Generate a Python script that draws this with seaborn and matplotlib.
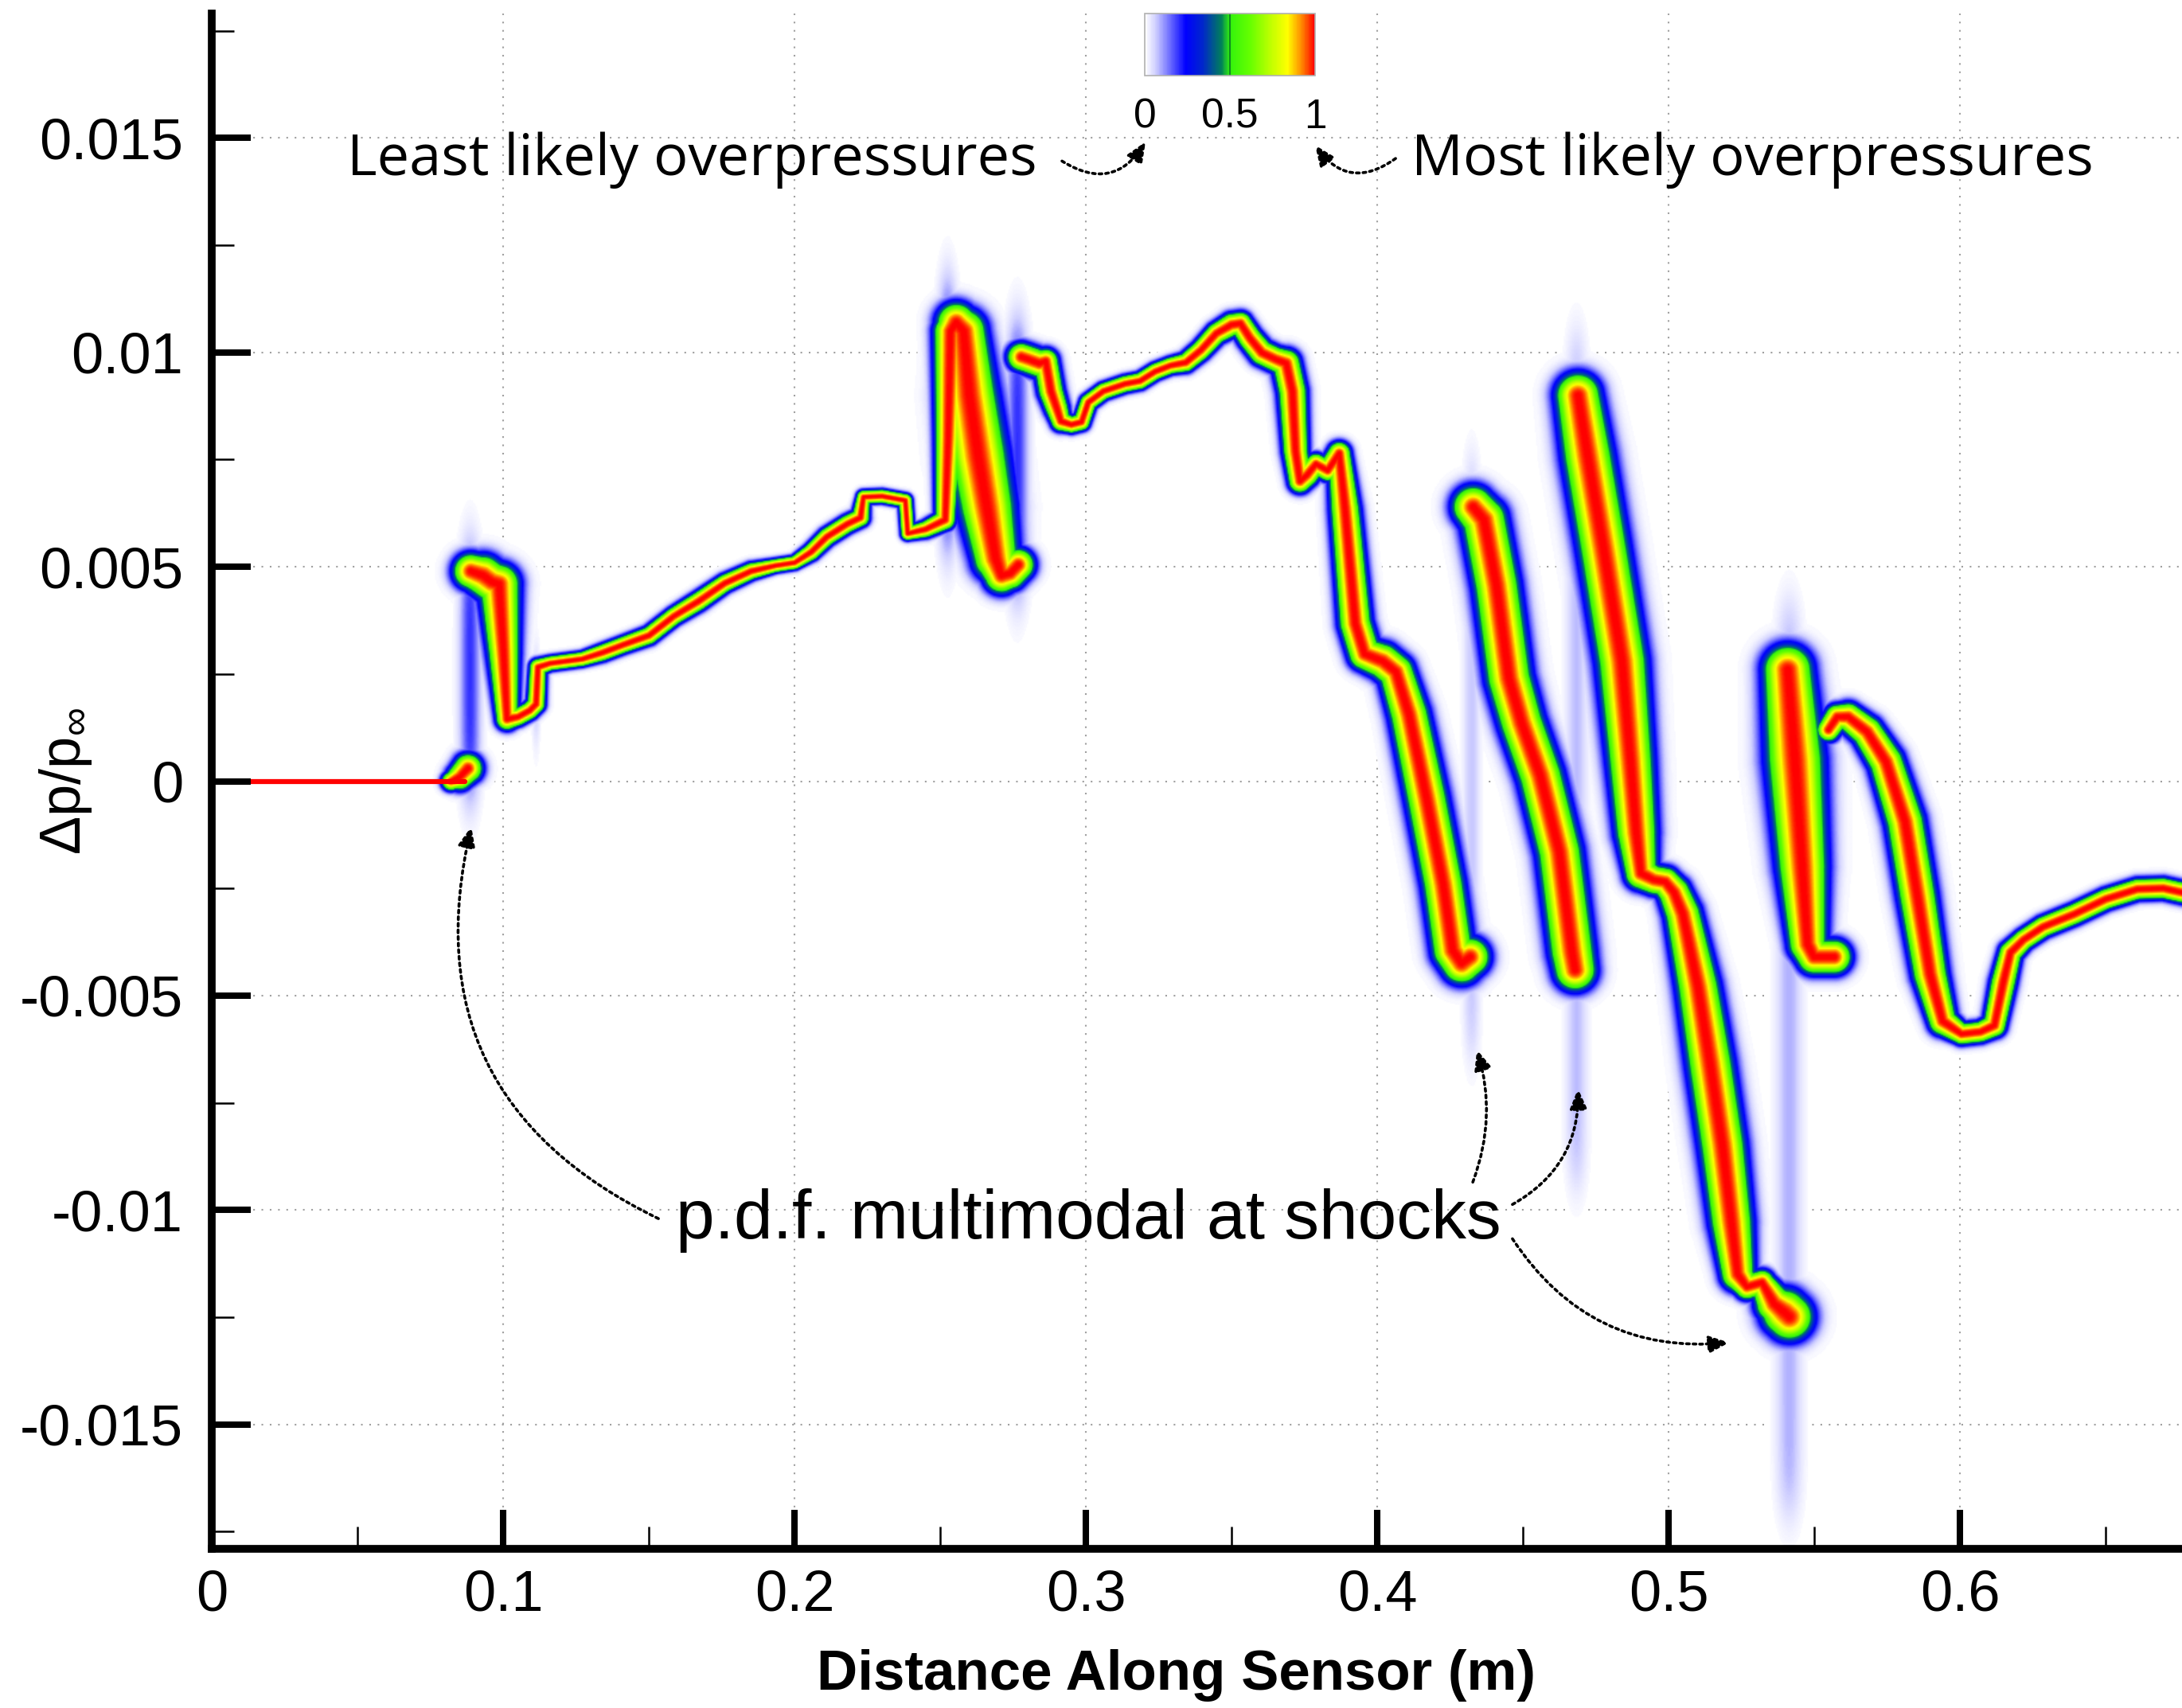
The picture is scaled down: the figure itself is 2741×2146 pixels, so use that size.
import numpy as np
import pandas as pd
import matplotlib
matplotlib.use("Agg")
import matplotlib.pyplot as plt
import seaborn as sns
from matplotlib.colors import LinearSegmentedColormap, Normalize
from matplotlib.cm import ScalarMappable
from matplotlib.ticker import MultipleLocator, FuncFormatter

# ---------------------------------------------------------------------------
# Overpressure p.d.f. along the sensor.
# Each stretch between shocks is given by the most likely value of dp/p_inf
# and the spread of the p.d.f. around it.
# ---------------------------------------------------------------------------

# deterministic part ahead of the first shock
zero_x = [0.0, 0.0870]
zero_dp = [0.0, 0.0]

seg0_x = [0.0820, 0.0850, 0.0878]
seg0_dp = [0.00000, 0.00010, 0.00030]
seg0_sd = [0.00018, 0.00025, 0.00028]

seg1_x = [0.0888, 0.0930, 0.0960, 0.0985, 0.1000, 0.1012, 0.1050, 0.1090, 0.1112,
          0.1118, 0.1160, 0.1270, 0.1340, 0.1410, 0.1500, 0.1585, 0.1670, 0.1760,
          0.1850, 0.1934, 0.2000, 0.2057, 0.2110, 0.2180, 0.2226, 0.2236, 0.2300,
          0.2380, 0.2388, 0.2450, 0.2517, 0.2527, 0.2535, 0.2555, 0.2580, 0.2600,
          0.2630, 0.2660, 0.2690, 0.2710, 0.2740, 0.2768]
seg1_dp = [0.00490, 0.00480, 0.00465, 0.00460, 0.00300, 0.00145, 0.00150, 0.00165, 0.00180,
           0.00266, 0.00275, 0.00285, 0.00300, 0.00318, 0.00340, 0.00385, 0.00420, 0.00462,
           0.00490, 0.00503, 0.00510, 0.00535, 0.00570, 0.00600, 0.00615, 0.00663, 0.00665,
           0.00655, 0.00578, 0.00588, 0.00610, 0.00800, 0.01050, 0.01070, 0.01050, 0.00900,
           0.00760, 0.00640, 0.00520, 0.00480, 0.00485, 0.00505]
seg1_sd = [0.00034, 0.00039, 0.00039, 0.00039, 0.00030, 0.00021, 0.00017, 0.00017, 0.00017,
           0.00016, 0.00014, 0.00014, 0.00016, 0.00016, 0.00017, 0.00017, 0.00018, 0.00017,
           0.00016, 0.00013, 0.00013, 0.00016, 0.00017, 0.00017, 0.00017, 0.00013, 0.00013,
           0.00013, 0.00013, 0.00016, 0.00019, 0.00025, 0.00032, 0.00038, 0.00043, 0.00052,
           0.00055, 0.00052, 0.00043, 0.00034, 0.00031, 0.00031]

seg2_x = [0.2778, 0.2800, 0.2840, 0.2862, 0.2880, 0.2900, 0.2914, 0.2950, 0.2985,
          0.3008, 0.3060, 0.3134, 0.3186, 0.3238, 0.3291, 0.3343, 0.3395, 0.3448,
          0.3500, 0.3531, 0.3563, 0.3604, 0.3650, 0.3688, 0.3709, 0.3720, 0.3735,
          0.3760, 0.3790, 0.3830, 0.3870, 0.3890, 0.3925, 0.3957, 0.4020, 0.4065,
          0.4110, 0.4170, 0.4227, 0.4260, 0.4290, 0.4320]
seg2_dp = [0.00990, 0.00985, 0.00975, 0.00980, 0.00910, 0.00870, 0.00840, 0.00832, 0.00838,
           0.00884, 0.00910, 0.00927, 0.00934, 0.00956, 0.00970, 0.00977, 0.01006, 0.01045,
           0.01065, 0.01068, 0.01034, 0.01000, 0.00985, 0.00975, 0.00910, 0.00770, 0.00700,
           0.00715, 0.00740, 0.00725, 0.00765, 0.00635, 0.00368, 0.00297, 0.00280, 0.00255,
           0.00155, -0.00040, -0.00240, -0.00395, -0.00425, -0.00410]
seg2_sd = [0.00027, 0.00027, 0.00027, 0.00024, 0.00024, 0.00022, 0.00019, 0.00016, 0.00016,
           0.00016, 0.00016, 0.00016, 0.00016, 0.00016, 0.00016, 0.00018, 0.00019, 0.00020,
           0.00022, 0.00022, 0.00023, 0.00024, 0.00024, 0.00027, 0.00027, 0.00024, 0.00022,
           0.00022, 0.00020, 0.00020, 0.00022, 0.00028, 0.00031, 0.00031, 0.00034, 0.00034,
           0.00037, 0.00039, 0.00039, 0.00039, 0.00039, 0.00037]

seg3_x = [0.4330, 0.4367, 0.4410, 0.4453, 0.4496, 0.4561, 0.4626, 0.4669, 0.4680]
seg3_dp = [0.00640, 0.00610, 0.00457, 0.00240, 0.00137, 0.00012, -0.00165, -0.00397, -0.00440]
seg3_sd = [0.00040, 0.00043, 0.00043, 0.00043, 0.00042, 0.00042, 0.00042, 0.00042, 0.00040]

seg4_x = [0.4690, 0.4723, 0.4777, 0.4841, 0.4870, 0.4890, 0.4906, 0.4950, 0.4990,
          0.5020, 0.5050, 0.5102, 0.5144, 0.5186, 0.5217, 0.5238, 0.5270, 0.5322,
          0.5364, 0.5400, 0.5416]
seg4_dp = [0.00900, 0.00760, 0.00546, 0.00280, 0.00050, -0.00120, -0.00215, -0.00230, -0.00235,
           -0.00260, -0.00310, -0.00480, -0.00660, -0.00850, -0.01030, -0.01150, -0.01180, -0.01170,
           -0.01220, -0.01240, -0.01250]
seg4_sd = [0.00043, 0.00047, 0.00047, 0.00047, 0.00043, 0.00039, 0.00031, 0.00028, 0.00028,
           0.00031, 0.00034, 0.00040, 0.00043, 0.00043, 0.00040, 0.00032, 0.00024, 0.00024,
           0.00036, 0.00045, 0.00045]

seg5_x = [0.5410, 0.5435, 0.5460, 0.5478, 0.5500, 0.5570]
seg5_dp = [0.00260, 0.00050, -0.00200, -0.00380, -0.00410, -0.00410]
seg5_sd = [0.00047, 0.00054, 0.00047, 0.00036, 0.00033, 0.00033]

seg6_x = [0.5550, 0.5580, 0.5618, 0.5683, 0.5748, 0.5813, 0.5856, 0.5899, 0.5942,
          0.6007, 0.6072, 0.6120, 0.6150, 0.6175, 0.6220, 0.6287, 0.6395, 0.6503,
          0.6611, 0.6700, 0.6780]
seg6_dp = [0.00120, 0.00150, 0.00150, 0.00115, 0.00045, -0.00094, -0.00270, -0.00450, -0.00560,
           -0.00590, -0.00585, -0.00570, -0.00470, -0.00400, -0.00370, -0.00340, -0.00310, -0.00275,
           -0.00252, -0.00250, -0.00262]
seg6_sd = [0.00022, 0.00024, 0.00027, 0.00030, 0.00033, 0.00036, 0.00036, 0.00033, 0.00027,
           0.00020, 0.00020, 0.00022, 0.00024, 0.00022, 0.00020, 0.00020, 0.00020, 0.00020,
           0.00020, 0.00020, 0.00020]

# shocks: where the p.d.f. turns multimodal (low-probability spread between states)
shock_x = [0.0885, 0.1112, 0.2525, 0.2765, 0.4325, 0.4685, 0.5415, 0.5550]
shock_spread_x = [0.0024, 0.0010, 0.0022, 0.0025, 0.0020, 0.0025, 0.0030, 0.0015]
shock_top = [0.0053, 0.0027, 0.0115, 0.0105, 0.0074, 0.0103, 0.0040, 0.0015]
shock_bottom = [-0.0002, 0.0013, 0.0055, 0.0045, -0.0063, -0.0093, -0.0170, -0.0040]
shock_level = [0.20, 0.10, 0.18, 0.20, 0.07, 0.08, 0.09, 0.07]

x_ticks = [0.0, 0.1, 0.2, 0.3, 0.4, 0.5, 0.6]
y_ticks = [-0.015, -0.01, -0.005, 0.0, 0.005, 0.01, 0.015]
cbar_ticks = [0.0, 0.5, 1.0]

# ---------------------------------------------------------------------------
sns.set_theme(style="white")
plt.rcParams["font.family"] = ["Liberation Sans", "DejaVu Sans"]
plt.rcParams["mathtext.fontset"] = "custom"
plt.rcParams["mathtext.rm"] = "Liberation Sans"
plt.rcParams["mathtext.it"] = "Liberation Sans:italic"
plt.rcParams["axes.unicode_minus"] = False
for key in ("text.color", "axes.labelcolor", "xtick.color", "ytick.color"):
    plt.rcParams[key] = "black"

X_MIN, X_MAX = 0.0, 0.6762
Y_MIN, Y_MAX = -0.0179, 0.0179

fig = plt.figure(figsize=(27.41, 21.46), dpi=100)
ax_left, ax_bottom = 266 / 2741, 1 - 1946 / 2146
ax_w, ax_h = 1 - ax_left, (1946 - 17) / 2146
ax = fig.add_axes([ax_left, ax_bottom, ax_w, ax_h])

# colour map: white -> blue -> green -> yellow -> red
pdf_cmap = LinearSegmentedColormap.from_list("pdf_map", [
    (0.00, (1.00, 1.00, 1.00)),
    (0.06, (0.82, 0.82, 1.00)),
    (0.24, (0.00, 0.00, 1.00)),
    (0.34, (0.00, 0.15, 0.80)),
    (0.45, (0.00, 0.50, 0.35)),
    (0.50, (0.20, 0.95, 0.05)),
    (0.62, (0.40, 1.00, 0.00)),
    (0.74, (0.75, 1.00, 0.00)),
    (0.84, (1.00, 1.00, 0.00)),
    (0.92, (1.00, 0.55, 0.00)),
    (1.00, (1.00, 0.00, 0.00)),
])
pdf_cmap.set_bad((1, 1, 1, 0))

# ---- probability field on a pixel-like grid --------------------------------
W_PX, H_PX = 2741 * ax_w, 2146 * ax_h
nx, ny = 1650, 1290
sx = W_PX / (X_MAX - X_MIN)
sy = H_PX / (Y_MAX - Y_MIN)
gx = np.linspace(X_MIN, X_MAX, nx) * sx
gy = np.linspace(Y_MIN, Y_MAX, ny) * sy
field = np.zeros((ny, nx))

PROFILE_POWER = 2.4
PROFILE_SCALE = 0.916


def add_branch(xk, yk, sk):
    px = np.asarray(xk) * sx
    py = np.asarray(yk) * sy
    pw = np.asarray(sk) * sy
    for i in range(len(px) - 1):
        x0, y0, x1, y1 = px[i], py[i], px[i + 1], py[i + 1]
        w0, w1 = pw[i], pw[i + 1]
        r = 4.5 * max(w0, w1)
        ix = np.searchsorted(gx, [min(x0, x1) - r, max(x0, x1) + r])
        iy = np.searchsorted(gy, [min(y0, y1) - r, max(y0, y1) + r])
        sub_x = gx[ix[0]:ix[1]][None, :]
        sub_y = gy[iy[0]:iy[1]][:, None]
        dx, dy = x1 - x0, y1 - y0
        L2 = max(dx * dx + dy * dy, 1e-9)
        t = np.clip(((sub_x - x0) * dx + (sub_y - y0) * dy) / L2, 0, 1)
        d = np.sqrt((sub_x - (x0 + t * dx)) ** 2 + (sub_y - (y0 + t * dy)) ** 2)
        w = (w0 + t * (w1 - w0)) * PROFILE_SCALE
        # core of the p.d.f. plus a faint halo of unlikely values
        v = np.maximum(np.exp(-0.5 * (d / w) ** PROFILE_POWER),
                       0.025 * np.exp(-0.5 * (d / (1.8 * w)) ** 2))
        blk = field[iy[0]:iy[1], ix[0]:ix[1]]
        np.maximum(blk, v, out=blk)


for bx, by, bs in [(seg0_x, seg0_dp, seg0_sd), (seg1_x, seg1_dp, seg1_sd),
                   (seg2_x, seg2_dp, seg2_sd), (seg3_x, seg3_dp, seg3_sd),
                   (seg4_x, seg4_dp, seg4_sd), (seg5_x, seg5_dp, seg5_sd),
                   (seg6_x, seg6_dp, seg6_sd)]:
    add_branch(bx, by, bs)

xv = gx / sx
yv = gy / sy
for xs_, hx, top, bot, lvl in zip(shock_x, shock_spread_x, shock_top, shock_bottom, shock_level):
    fx = np.exp(-0.5 * ((xv - xs_) / hx) ** 2)
    soft = 0.0004
    fy = 1 / (1 + np.exp(-(yv - bot) / soft)) / (1 + np.exp((yv - top) / soft))
    np.maximum(field, lvl * fy[:, None] * fx[None, :], out=field)

masked = np.ma.masked_less(field, 0.008)

# dotted grid under everything
for xt in x_ticks[1:]:
    ax.axvline(xt, color="#a0a0a0", lw=1.5, ls=(0, (1, 4)), zorder=0.3)
for yt in y_ticks:
    ax.axhline(yt, color="#a0a0a0", lw=1.5, ls=(0, (1, 4)), zorder=0.3)

ax.imshow(masked, extent=[X_MIN, X_MAX, Y_MIN, Y_MAX], origin="lower",
          aspect="auto", cmap=pdf_cmap, vmin=0, vmax=1,
          interpolation="bilinear", zorder=1)

zero_df = pd.DataFrame({"distance": zero_x, "dp": zero_dp})
sns.lineplot(data=zero_df, x="distance", y="dp", ax=ax, color="#ff0000",
             lw=4.5, zorder=1.5)

ax.set_xlim(X_MIN, X_MAX)
ax.set_ylim(Y_MIN, Y_MAX)
ax.set_axisbelow(False)

for s in ("top", "right"):
    ax.spines[s].set_visible(False)
for s in ("left", "bottom"):
    ax.spines[s].set_color("black")
    ax.spines[s].set_linewidth(7)

fmt = FuncFormatter(lambda v, _: f"{v:g}")
ax.set_xticks(x_ticks)
ax.set_yticks(y_ticks)
ax.xaxis.set_major_formatter(fmt)
ax.yaxis.set_major_formatter(fmt)
ax.xaxis.set_minor_locator(MultipleLocator(0.05))
ax.yaxis.set_minor_locator(MultipleLocator(0.0025))
ax.tick_params(which="major", direction="in", length=35, width=5.8, color="black",
               labelsize=52, labelcolor="black")
ax.tick_params(which="minor", direction="in", length=20, width=1.8, color="black")
ax.tick_params(axis="y", which="major", pad=26)
ax.tick_params(axis="x", which="major", pad=18)
ax.tick_params(bottom=True, left=True, which="both")

ax.set_xlabel("Distance Along Sensor (m)", fontsize=51, fontweight="bold", color="black")
ax.xaxis.set_label_coords((1477 - 266) / (2741 - 266), -(2105 - 1946) / 1929)
ax.xaxis.label.set_va("center")
ax.set_ylabel(r"Δp/p$_{\infty}$", fontsize=52, color="black")
ax.yaxis.set_label_coords((83 - 266) / (2741 - 266), 0.5)
ax.yaxis.label.set_va("center")

# ---- colour bar ------------------------------------------------------------
cax = fig.add_axes([1438 / 2741, 1 - 95 / 2146, (1652 - 1438) / 2741, 78 / 2146])
sm = ScalarMappable(norm=Normalize(0, 1), cmap=pdf_cmap)
cb = fig.colorbar(sm, cax=cax, orientation="horizontal", ticks=cbar_ticks)
cb.ax.set_xticklabels(["0", "0.5", "1"])
cb.ax.tick_params(length=0, labelsize=37, pad=20, labelcolor="black")
cb.outline.set_edgecolor("#b0b0b0")
cb.outline.set_linewidth(1.2)
cax.axvline(0.5, color="#108a20", lw=1.5)

# ---- annotations -------------------------------------------------------------
hand = ["Open Sans", "DejaVu Sans"]
ax.text(0.1648, 0.01413, "Least likely overpressures", fontsize=52, family=hand,
        ha="center", va="baseline", color="black", zorder=5)
ax.text(0.5287, 0.01413, "Most likely overpressures", fontsize=52, family=hand,
        ha="center", va="baseline", color="black", zorder=5)
ax.text(0.3008, -0.01067, "p.d.f. multimodal at shocks", fontsize=63,
        ha="center", va="baseline", color="black", zorder=5)

arrow_kw = dict(arrowstyle="-|>,head_length=0.7,head_width=0.3", mutation_scale=22,
                color="black", lw=2.6, ls=(0, (1, 1.3)), shrinkA=0, shrinkB=0)

for tip, start, rad in [((0.0891, -0.00106), (0.1533, -0.01020), -0.40),
                        ((0.4342, -0.00626), (0.4328, -0.00935), 0.17),
                        ((0.4689, -0.00717), (0.4464, -0.00987), 0.30),
                        ((0.5208, -0.01309), (0.4464, -0.01067), 0.30),
                        ((0.3205, 0.01491), (0.2918, 0.01446), 0.50),
                        ((0.3787, 0.01483), (0.4063, 0.01452), -0.50)]:
    ax.annotate("", xy=tip, xytext=start, annotation_clip=False, zorder=5,
                arrowprops=dict(connectionstyle=f"arc3,rad={rad}", **arrow_kw))

fig.savefig("out.png", dpi=100, facecolor="white")
